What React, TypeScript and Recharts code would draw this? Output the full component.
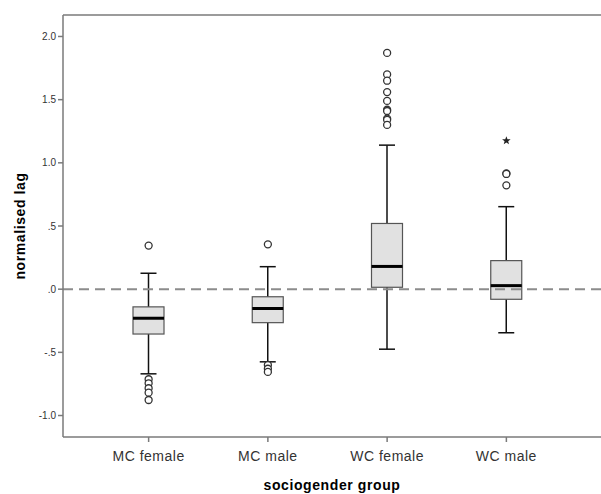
import React from 'react';
import { ComposedChart, Bar, Scatter, XAxis, YAxis, ReferenceLine } from 'recharts';

const groups = ['MC female', 'MC male', 'WC female', 'WC male'];
const whiskerLow = [-0.67, -0.575, -0.475, -0.345];
const q1 = [-0.355, -0.265, 0.015, -0.08];
const median = [-0.23, -0.153, 0.18, 0.028];
const q3 = [-0.14, -0.06, 0.52, 0.226];
const whiskerHigh = [0.126, 0.178, 1.14, 0.653];

const outlierGroups = [
    'MC female', 'MC female', 'MC female', 'MC female', 'MC female', 'MC female',
    'MC male', 'MC male', 'MC male', 'MC male',
    'WC female', 'WC female', 'WC female', 'WC female', 'WC female', 'WC female', 'WC female', 'WC female', 'WC female', 'WC female',
    'WC male', 'WC male', 'WC male',
];
const outlierValues = [
    0.345, -0.713, -0.745, -0.784, -0.819, -0.877,
    0.355, -0.6, -0.63, -0.655,
    1.87, 1.7, 1.65, 1.56, 1.49, 1.42, 1.41, 1.35, 1.34, 1.3,
    0.917, 0.912, 0.822,
];
const extremeGroups = ['WC male'];
const extremeValues = [1.175];

const yTicks = [-1, -0.5, 0, 0.5, 1, 1.5, 2];
const yMin = -1.17;
const yMax = 2.17;

const boxData = groups.map((g, i) => ({
    group: g,
    range: [whiskerLow[i], whiskerHigh[i]],
    q1: q1[i],
    median: median[i],
    q3: q3[i],
}));
const outliers = outlierGroups.map((g, i) => ({ group: g, v: outlierValues[i] }));
const extremes = extremeGroups.map((g, i) => ({ group: g, v: extremeValues[i] }));

const fmt = (v: number) => v.toFixed(1).replace(/^0\./, '.').replace(/^-0\./, '-.');

const BoxShape = (props: any) => {
    const { x, y, width, height, payload } = props;
    const [lo, hi] = payload.range;
    // bar spans the whiskers; place the box inside it on the same linear scale
    const py = (v: number) => y + ((hi - v) / (hi - lo)) * height;
    const cx = x + width / 2;
    const cap = 8;
    const top = py(payload.q3);
    const bottom = py(payload.q1);
    return (
        <g>
            <line x1={cx} x2={cx} y1={y} y2={y + height} stroke="#111" strokeWidth={1.5} />
            <line x1={cx - cap} x2={cx + cap} y1={y} y2={y} stroke="#111" strokeWidth={1.5} />
            <line x1={cx - cap} x2={cx + cap} y1={y + height} y2={y + height} stroke="#111" strokeWidth={1.5} />
            <rect x={x} y={top} width={width} height={bottom - top} fill="#e1e1e1" stroke="#555" strokeWidth={1.2} />
            <line x1={x} x2={x + width} y1={py(payload.median)} y2={py(payload.median)} stroke="#000" strokeWidth={3} />
        </g>
    );
};

const Circle = (props: any) => (
    <circle cx={props.cx} cy={props.cy} r={3.5} fill="#fff" stroke="#333" strokeWidth={1.3} />
);

const Star = (props: any) => {
    const { cx, cy } = props;
    const pts: string[] = [];
    for (let k = 0; k < 10; k++) {
        const r = k % 2 === 0 ? 4.5 : 1.9;
        const a = -Math.PI / 2 + (k * Math.PI) / 5;
        pts.push(`${cx + r * Math.cos(a)},${cy + r * Math.sin(a)}`);
    }
    return <polygon points={pts.join(' ')} fill="#222" />;
};

export default function App() {
    return (
        <div style={{ position: 'absolute', left: 0, top: 0, fontFamily: '"Liberation Sans", Arial, sans-serif' }}>
            <ComposedChart width={601} height={494} data={boxData} margin={{ top: 15, right: 0, left: 0, bottom: 0 }}>
                <XAxis
                    dataKey="group"
                    type="category"
                    allowDuplicatedCategory={false}
                    padding={{ left: 26, right: 35 }}
                    height={57}
                    stroke="#7a7a7a"
                    strokeWidth={1.5}
                    tickSize={5}
                    tickMargin={9}
                    tick={{ fontSize: 14, fill: '#333', letterSpacing: 0.5 }}
                    label={{
                        value: 'sociogender group',
                        position: 'insideBottom',
                        offset: 4,
                        style: { fontSize: 14, fontWeight: 'bold', fill: '#000', letterSpacing: 0.6 },
                    }}
                />
                <YAxis
                    type="number"
                    domain={[yMin, yMax]}
                    ticks={yTicks}
                    allowDataOverflow
                    width={63}
                    stroke="#7a7a7a"
                    strokeWidth={1.5}
                    tickSize={5}
                    tickFormatter={fmt}
                    tick={{ fontSize: 10, fill: '#333' }}
                    label={{
                        value: 'normalised lag',
                        angle: -90,
                        position: 'insideLeft',
                        offset: 20,
                        style: { textAnchor: 'middle', fontSize: 14, fontWeight: 'bold', fill: '#000', letterSpacing: 0.6 },
                    }}
                />
                <ReferenceLine y={yMax} stroke="#7a7a7a" strokeWidth={1.5} />
                <ReferenceLine y={0} stroke="#8c8c8c" strokeWidth={2} strokeDasharray="10 6" />
                <Bar dataKey="range" barSize={31} shape={BoxShape} isAnimationActive={false} />
                <Scatter data={outliers} dataKey="v" shape={Circle} isAnimationActive={false} />
                <Scatter data={extremes} dataKey="v" shape={Star} isAnimationActive={false} />
            </ComposedChart>
        </div>
    );
}
